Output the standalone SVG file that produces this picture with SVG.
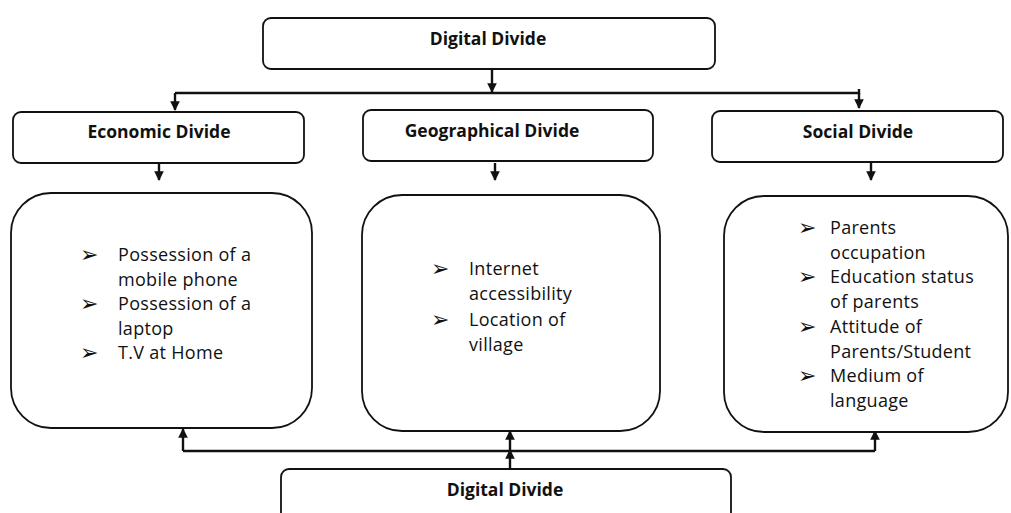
<svg xmlns="http://www.w3.org/2000/svg" width="1011" height="513" viewBox="0 0 1011 513">
<style>
.box{fill:#fff;stroke:#111;stroke-width:1.8}
.lbl{font-family:"Open Sans","Liberation Sans",sans-serif;font-weight:700;font-size:17.5px;fill:#111;text-anchor:middle}
.item{font-family:"Open Sans","Liberation Sans",sans-serif;font-size:18px;letter-spacing:0.3px;fill:#111}
.bul{font-family:"DejaVu Sans",sans-serif;font-size:22px;fill:#111}
.con{fill:none;stroke:#111;stroke-width:2.4}
</style>
<defs>
<marker id="ah" viewBox="0 0 10 10" refX="9" refY="5" markerWidth="4" markerHeight="4" orient="auto" markerUnits="strokeWidth">
<path d="M0,0 L10,5 L0,10 z" fill="#111"/>
</marker>
</defs>
<rect width="1011" height="513" fill="#fff"/>
<g id="connectors">
<path class="con" d="M492,69 V92" marker-end="url(#ah)"/>
<path class="con" d="M175,93 H859 V89"/>
<path class="con" d="M175,93 V110" marker-end="url(#ah)"/>
<path class="con" d="M859,93 V108" marker-end="url(#ah)"/>
<path class="con" d="M159,163 V180" marker-end="url(#ah)"/>
<path class="con" d="M495,163 V180" marker-end="url(#ah)"/>
<path class="con" d="M871,163 V180" marker-end="url(#ah)"/>
<path class="con" d="M183,451 H875"/>
<path class="con" d="M183,451 V429" marker-end="url(#ah)"/>
<path class="con" d="M510,451 V431" marker-end="url(#ah)"/>
<path class="con" d="M875,451 V431" marker-end="url(#ah)"/>
<path class="con" d="M510,469 V450" marker-end="url(#ah)"/>
</g>
<g id="top">
<rect class="box" x="263" y="18" width="452" height="51" rx="8"/>
<text class="lbl" x="488" y="45">Digital Divide</text>
</g>
<g id="economic">
<rect class="box" x="13" y="112" width="291" height="51" rx="8"/>
<text class="lbl" x="159" y="138">Economic Divide</text>
</g>
<g id="geographical">
<rect class="box" x="363" y="110" width="290" height="51" rx="8"/>
<text class="lbl" x="492" y="137">Geographical Divide</text>
</g>
<g id="social">
<rect class="box" x="712" y="111" width="291" height="51" rx="8"/>
<text class="lbl" x="858" y="138">Social Divide</text>
</g>
<g id="economic-items">
<rect class="box" x="11" y="193" width="301" height="235" rx="40"/>
<text class="bul" x="80" y="262">➢</text>
<text class="item" x="118" y="261">Possession of a</text>
<text class="item" x="118" y="285.5">mobile phone</text>
<text class="bul" x="80" y="311">➢</text>
<text class="item" x="118" y="310">Possession of a</text>
<text class="item" x="118" y="334.5">laptop</text>
<text class="bul" x="80" y="360">➢</text>
<text class="item" x="118" y="359">T.V at Home</text>
</g>
<g id="geographical-items">
<rect class="box" x="362" y="195" width="298" height="236" rx="40"/>
<text class="bul" x="431" y="276">➢</text>
<text class="item" x="469" y="275">Internet</text>
<text class="item" x="469" y="300.3">accessibility</text>
<text class="bul" x="431" y="326.6">➢</text>
<text class="item" x="469" y="325.6">Location of</text>
<text class="item" x="469" y="351">village</text>
</g>
<g id="social-items">
<rect class="box" x="724" y="196" width="284" height="236" rx="40"/>
<text class="bul" x="798" y="235">➢</text>
<text class="item" x="830" y="234">Parents</text>
<text class="item" x="830" y="258.7">occupation</text>
<text class="bul" x="798" y="284.4">➢</text>
<text class="item" x="830" y="283.4">Education status</text>
<text class="item" x="830" y="308.1">of parents</text>
<text class="bul" x="798" y="333.8">➢</text>
<text class="item" x="830" y="332.8">Attitude of</text>
<text class="item" x="830" y="357.5">Parents/Student</text>
<text class="bul" x="798" y="383.2">➢</text>
<text class="item" x="830" y="382.2">Medium of</text>
<text class="item" x="830" y="407">language</text>
</g>
<g id="bottom">
<rect class="box" x="281" y="469" width="450" height="70" rx="8"/>
<text class="lbl" x="505" y="496">Digital Divide</text>
</g>
</svg>
